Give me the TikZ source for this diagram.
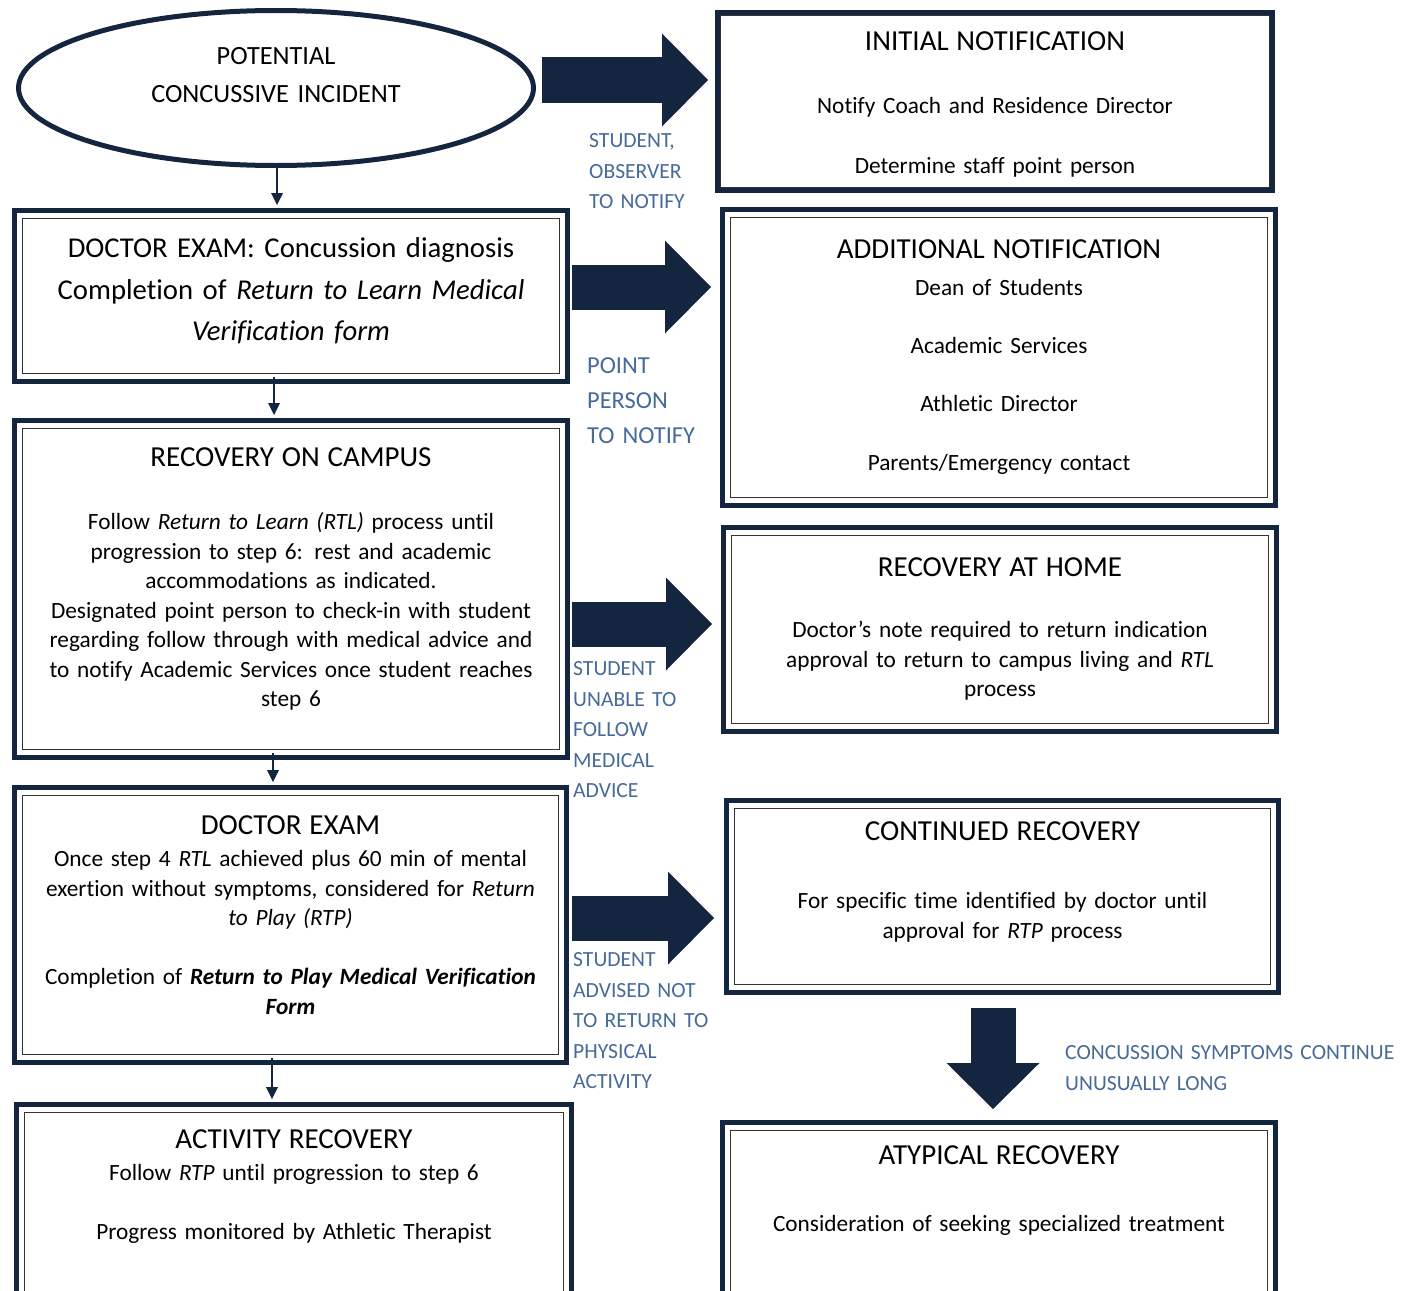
\documentclass[tikz,border=0pt]{standalone}
\usepackage{fontspec}
\setmainfont{Carlito}[Ligatures=NoCommon]
\usetikzlibrary{shapes.geometric,arrows.meta}

\definecolor{navy}{RGB}{20,38,63}
\definecolor{notecol}{RGB}{70,106,154}

\newcommand{\bodyfont}{\fontsize{23.3}{29.5}\selectfont}
\newcommand{\titlefont}{\fontsize{29}{29.5}\selectfont}
\newcommand{\notefont}{\fontsize{21.6}{30.5}\selectfont}

\begin{document}
\begin{tikzpicture}[
    x=1pt, y=-1pt,
    every node/.style={font=\bodyfont},
    inframe/.style={path picture={\draw[black!80,line width=1.3pt]
        ([shift={(#1,#1)}]path picture bounding box.north west) rectangle
        ([shift={(-#1,-#1)}]path picture bounding box.south east);}},
    inframe/.default=8,
    flowbox/.style={draw=navy, line width=5pt, inner sep=0pt,
        anchor=north west, align=center, inframe},
    bigarrow/.style={draw=navy, line width=45pt,
        -{Triangle[width=93pt,length=46pt,line width=0pt]}},
    smallarrow/.style={draw=navy, line width=1.5pt,
        -{Triangle[width=12pt,length=12pt,line width=0pt]}},
    note/.style={text=notecol, font=\notefont, inner sep=0pt,
        anchor=base west, align=left, text width=180pt}
]
\path[use as bounding box] (0,0) rectangle (1410,1290);
\clip (0,0) rectangle (1410,1290);

% Incident
\node[draw=navy, line width=5pt, ellipse, minimum width=515pt,
      minimum height=155pt, inner sep=0pt, align=center, text width=300pt,
      font=\fontsize{26.3}{29.5}\selectfont, text height=10pt, text depth=56pt]
  (incident) at (276,88) {POTENTIAL\\[7.5pt]CONCUSSIVE INCIDENT};

% Left column
\node[flowbox, text width=553pt, text height=47pt, text depth=124pt,
      font=\fontsize{28.7}{41.5}\selectfont]
  (exam) at (12,208) {DOCTOR EXAM: Concussion diagnosis\\
  Completion of \textit{Return to Learn Medical}\\
  \textit{Verification form}};

\node[flowbox, text width=553pt, text height=46pt, text depth=291pt]
  (campus) at (12,418) {{\titlefont RECOVERY ON CAMPUS}\\[33.5pt]
  Follow \textit{Return to Learn (RTL)} process until\\
  progression to step 6: rest and academic\\
  accommodations as indicated.\\
  Designated point person to check-in with student\\
  regarding follow through with medical advice and\\
  to notify Academic Services once student reaches\\
  step 6};

\node[flowbox, text width=552pt, text height=47pt, text depth=228pt]
  (recheck) at (12,785) {{\titlefont DOCTOR EXAM}\\[2.5pt]
  Once step 4 \textit{RTL} achieved plus 60 min of mental\\
  exertion without symptoms, considered for \textit{Return}\\
  \textit{to Play (RTP)}\\[29.5pt]
  Completion of \textbf{\textit{Return to Play Medical Verification}}\\
  \textbf{\textit{Form}}};

\node[flowbox, text width=555pt, text height=44pt, text depth=230pt]
  (activity) at (14,1102) {{\titlefont ACTIVITY RECOVERY}\\[2.5pt]
  Follow \textit{RTP} until progression to step 6\\[29.5pt]
  Progress monitored by Athletic Therapist};

% Right column
\node[flowbox, inframe=3, text width=555pt, text height=38pt, text depth=140pt]
  (initial) at (715,10) {{\titlefont INITIAL NOTIFICATION}\\[33.5pt]
  Notify Coach and Residence Director\\[30.5pt]
  Determine staff point person};

\node[flowbox, text width=553pt, text height=49pt, text depth=247pt]
  (additional) at (720,207) {{\titlefont ADDITIONAL NOTIFICATION}\\[7.5pt]
  Dean of Students\\[28.5pt]
  Academic Services\\[28.5pt]
  Athletic Director\\[29.5pt]
  Parents/Emergency contact};

\node[flowbox, text width=553pt, text height=49pt, text depth=155pt]
  (home) at (721,525) {{\titlefont RECOVERY AT HOME}\\[31.5pt]
  Doctor’s note required to return indication\\
  approval to return to campus living and \textit{RTL}\\
  process};

\node[flowbox, text width=552pt, text height=40pt, text depth=152pt]
  (continued) at (724,798) {{\titlefont CONTINUED RECOVERY}\\[38.5pt]
  For specific time identified by doctor until\\
  approval for \textit{RTP} process};

\node[flowbox, text width=553pt, text height=42pt, text depth=210pt]
  (atypical) at (720,1120) {{\titlefont ATYPICAL RECOVERY}\\[37.5pt]
  Consideration of seeking specialized treatment};

% Thin arrows down the left
\draw[smallarrow, shorten <=-5pt, shorten >=3pt]
  (277,0 |- incident.south) -- (277,0 |- exam.north);
\draw[smallarrow, shorten <=-7pt, shorten >=3pt]
  (274,0 |- exam.south) -- (274,0 |- campus.north);
\draw[smallarrow, shorten <=-7pt, shorten >=3pt]
  (273,0 |- campus.south) -- (273,0 |- recheck.north);
\draw[smallarrow, shorten <=-7pt, shorten >=3pt]
  (272,0 |- recheck.south) -- (272,0 |- activity.north);

% Block arrows
\draw[bigarrow, shorten <=6pt, shorten >=7pt]
  (incident.east |- 0,80) -- (initial.west |- 0,80);
\draw[bigarrow, shorten <=2pt, shorten >=9pt]
  (exam.east |- 0,287) -- (additional.west |- 0,287);
\draw[bigarrow, shorten <=2pt, shorten >=9pt]
  (campus.east |- 0,624) -- (home.west |- 0,624);
\draw[bigarrow, shorten <=3pt, shorten >=10pt]
  (recheck.east |- 0,918) -- (continued.west |- 0,918);
\draw[bigarrow, shorten <=13pt, shorten >=11pt]
  (993,0 |- continued.south) -- (993,0 |- atypical.north);

% Labels
\node[note] (tellcoach) at (589,147.5) {STUDENT,\\ OBSERVER\\ TO NOTIFY};
\node[note, font=\fontsize{24.4}{35}\selectfont]
  (tellpoint) at (587,373) {POINT\\ PERSON\\ TO NOTIFY};
\node[note] (unable) at (573,675.5) {STUDENT\\ UNABLE TO\\ FOLLOW\\ MEDICAL\\ ADVICE};
\node[note] (advised) at (573,966.5) {STUDENT\\ ADVISED NOT\\ TO RETURN TO\\ PHYSICAL\\ ACTIVITY};
\node[note, text width=345pt]
  (longer) at (1065,1059.5) {CONCUSSION SYMPTOMS CONTINUE\\ UNUSUALLY LONG};

\end{tikzpicture}
\end{document}
